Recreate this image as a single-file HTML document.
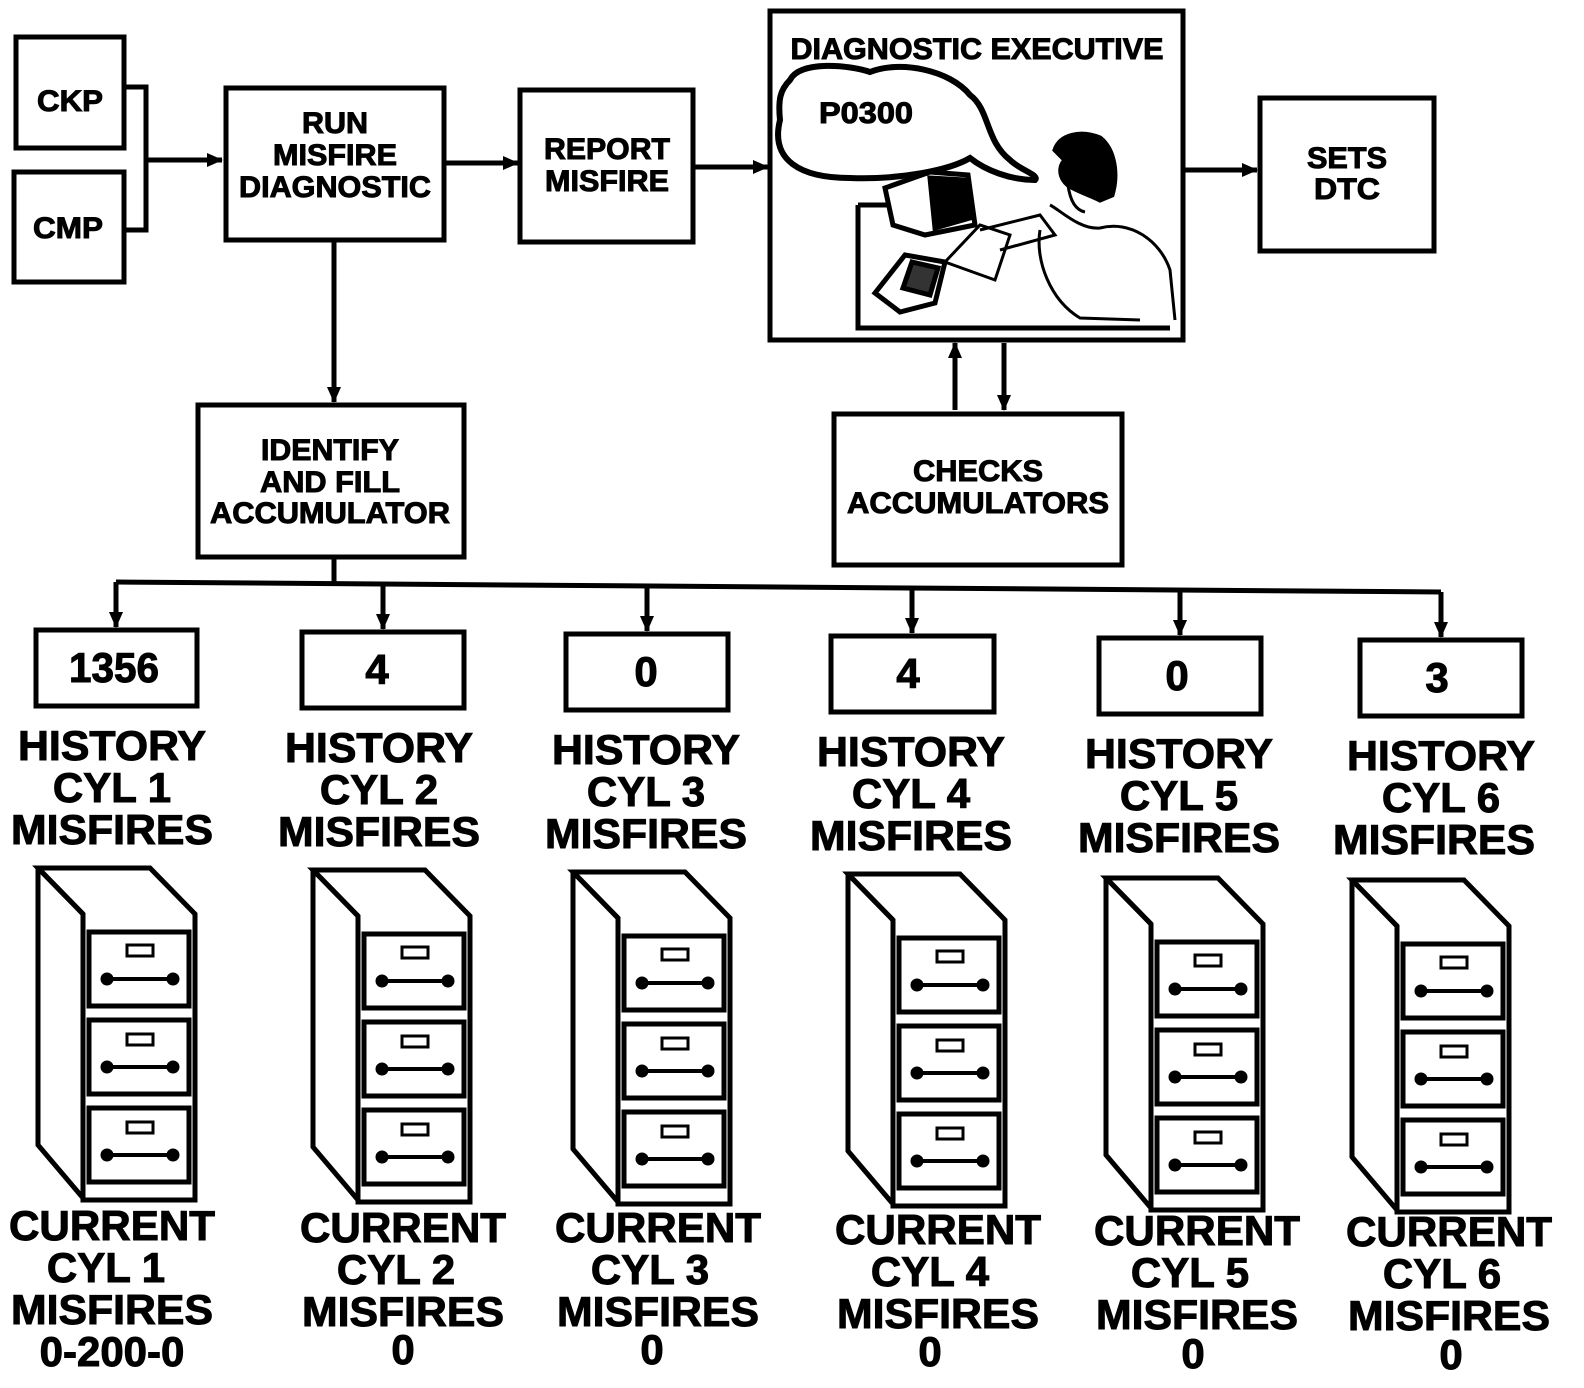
<!DOCTYPE html>
<html><head><meta charset="utf-8"><style>
html,body{margin:0;padding:0;background:#fff;}
svg{display:block;}
text{font-family:"Liberation Sans",sans-serif;font-weight:bold;fill:#000;stroke:#000;stroke-width:1;}
</style></head><body>
<svg width="1584" height="1388" viewBox="0 0 1584 1388" xmlns="http://www.w3.org/2000/svg">
<defs>
<marker id="ah" markerWidth="16" markerHeight="14" refX="15" refY="7" orient="auto" markerUnits="userSpaceOnUse" viewBox="0 0 16 14">
<path d="M0,0 L16,7 L0,14 z" fill="#000"/></marker>
<g id="cab" fill="none" stroke="#000" stroke-width="5">
<path d="M2,8 L114,8 L159,54 L159,340 L47,340 L47,54 Z" fill="#fff"/>
<path d="M2,8 L47,54"/>
<path d="M2,8 L2,285 L47,338"/>
<rect x="53" y="72" width="100" height="74"/>
<rect x="53" y="160" width="100" height="74"/>
<rect x="53" y="248" width="100" height="74"/>
<rect x="91" y="85" width="26" height="11" stroke-width="3"/>
<rect x="91" y="174" width="26" height="11" stroke-width="3"/>
<rect x="91" y="262" width="26" height="11" stroke-width="3"/>
<path d="M70,119 H138 M70,207 H138 M70,295 H138" stroke-width="4"/>
<circle cx="71" cy="119" r="4" fill="#000"/><circle cx="137" cy="119" r="4" fill="#000"/>
<circle cx="71" cy="207" r="4" fill="#000"/><circle cx="137" cy="207" r="4" fill="#000"/>
<circle cx="71" cy="295" r="4" fill="#000"/><circle cx="137" cy="295" r="4" fill="#000"/>
</g>
</defs>
<g fill="none" stroke="#000" stroke-width="5">
<rect x="16" y="37" width="108" height="111"/>
<rect x="14" y="172" width="110" height="110"/>
<path d="M124,87 H146 V230 H124"/>
<path d="M146,160 H222" marker-end="url(#ah)"/>
<rect x="226" y="88" width="218" height="152"/>
<path d="M444,163 H518" marker-end="url(#ah)"/>
<rect x="520" y="90" width="173" height="152"/>
<path d="M693,167 H768" marker-end="url(#ah)"/>
<rect x="770" y="11" width="413" height="329"/>
<path d="M1183,170 H1257" marker-end="url(#ah)"/>
<rect x="1260" y="98" width="174" height="153"/>
<path d="M334,240 V402" marker-end="url(#ah)"/>
<rect x="198" y="405" width="266" height="152"/>
<rect x="834" y="414" width="288" height="151"/>
<path d="M955,410 V343" marker-end="url(#ah)"/>
<path d="M1004,343 V410" marker-end="url(#ah)"/>
<path d="M334,557 V582"/>
<path d="M116,582 L1441,592"/>
<path d="M116,582 V627" marker-end="url(#ah)"/>
<path d="M383,584 V629" marker-end="url(#ah)"/>
<path d="M647,586 V631" marker-end="url(#ah)"/>
<path d="M912,588 V633" marker-end="url(#ah)"/>
<path d="M1180,590 V635" marker-end="url(#ah)"/>
<path d="M1441,592 V637" marker-end="url(#ah)"/>
<rect x="36" y="630" width="161" height="76"/>
<rect x="302" y="632" width="162" height="76"/>
<rect x="566" y="634" width="162" height="76"/>
<rect x="831" y="636" width="163" height="76"/>
<rect x="1099" y="638" width="162" height="76"/>
<rect x="1360" y="640" width="162" height="76"/>
<path d="M790,80 C800,60 850,65 870,72 C900,60 950,70 970,95 C990,110 985,140 1010,160 C1020,170 1040,175 1035,180 C1010,180 985,170 970,158 C950,170 900,180 850,178 C800,178 770,160 780,120 C778,100 780,90 790,80 Z" stroke-width="6"/>
<path d="M858,205 L858,328 L1170,328"/>
<path d="M858,205 L900,205"/>
<path d="M885,188 L930,172 L968,175 L975,225 L925,235 L893,225 Z" fill="#fff"/>
<path d="M930,178 L965,180 L970,218 L935,228 Z" fill="#000"/>
<path d="M875,293 L905,255 L945,262 L935,303 L900,312 Z" fill="#fff"/>
<path d="M912,262 L938,268 L930,295 L903,288 Z" fill="#333"/>
<path d="M945,262 L980,225 L1010,235 L995,280 Z" stroke-width="3"/>
<path d="M1055,150 C1060,135 1080,130 1100,138 C1115,150 1118,175 1112,195 L1100,200 C1090,195 1075,190 1068,185 C1060,178 1058,168 1065,160 Z" fill="#000"/>
<path d="M1068,185 C1070,200 1075,210 1085,212" stroke-width="3"/>
<path d="M1050,205 C1060,210 1080,230 1100,228 C1130,220 1160,240 1170,270 L1175,320" stroke-width="3"/>
<path d="M1040,230 C1035,260 1050,300 1080,318 L1140,320" stroke-width="3"/>
<path d="M980,230 L1040,215 L1055,235 L1000,250" stroke-width="3"/>
</g>
<g text-anchor="middle">
<text x="70" y="111" font-size="30" textLength="66" lengthAdjust="spacingAndGlyphs">CKP</text>
<text x="68" y="238" font-size="30" textLength="70" lengthAdjust="spacingAndGlyphs">CMP</text>
<text x="335" y="133" font-size="30" textLength="66" lengthAdjust="spacingAndGlyphs">RUN</text>
<text x="335" y="165" font-size="30" textLength="124" lengthAdjust="spacingAndGlyphs">MISFIRE</text>
<text x="335" y="197" font-size="30" textLength="192" lengthAdjust="spacingAndGlyphs">DIAGNOSTIC</text>
<text x="607" y="159" font-size="30" textLength="126" lengthAdjust="spacingAndGlyphs">REPORT</text>
<text x="607" y="191" font-size="30" textLength="124" lengthAdjust="spacingAndGlyphs">MISFIRE</text>
<text x="977" y="59" font-size="30" textLength="373" lengthAdjust="spacingAndGlyphs">DIAGNOSTIC EXECUTIVE</text>
<text x="866" y="123" font-size="30" textLength="94" lengthAdjust="spacingAndGlyphs">P0300</text>
<text x="1347" y="168" font-size="30" textLength="80" lengthAdjust="spacingAndGlyphs">SETS</text>
<text x="1347" y="199" font-size="30" textLength="66" lengthAdjust="spacingAndGlyphs">DTC</text>
<text x="330" y="460" font-size="30" textLength="138" lengthAdjust="spacingAndGlyphs">IDENTIFY</text>
<text x="330" y="492" font-size="30" textLength="140" lengthAdjust="spacingAndGlyphs">AND FILL</text>
<text x="330" y="523" font-size="30" textLength="240" lengthAdjust="spacingAndGlyphs">ACCUMULATOR</text>
<text x="978" y="481" font-size="30" textLength="130" lengthAdjust="spacingAndGlyphs">CHECKS</text>
<text x="978" y="513" font-size="30" textLength="262" lengthAdjust="spacingAndGlyphs">ACCUMULATORS</text>
</g>
<g text-anchor="middle" font-size="42">
<text x="114" y="682" textLength="90" lengthAdjust="spacingAndGlyphs">1356</text>
<text x="377" y="684">4</text>
<text x="646" y="686">0</text>
<text x="908" y="688">4</text>
<text x="1177" y="690">0</text>
<text x="1437" y="692">3</text>
</g>
<g text-anchor="middle" font-size="42">
<text x="112" y="760" textLength="188" lengthAdjust="spacingAndGlyphs">HISTORY</text>
<text x="112" y="802">CYL 1</text>
<text x="112" y="844" textLength="202" lengthAdjust="spacingAndGlyphs">MISFIRES</text>
<text x="379" y="762" textLength="188" lengthAdjust="spacingAndGlyphs">HISTORY</text>
<text x="379" y="804">CYL 2</text>
<text x="379" y="846" textLength="202" lengthAdjust="spacingAndGlyphs">MISFIRES</text>
<text x="646" y="764" textLength="188" lengthAdjust="spacingAndGlyphs">HISTORY</text>
<text x="646" y="806">CYL 3</text>
<text x="646" y="848" textLength="202" lengthAdjust="spacingAndGlyphs">MISFIRES</text>
<text x="911" y="766" textLength="188" lengthAdjust="spacingAndGlyphs">HISTORY</text>
<text x="911" y="808">CYL 4</text>
<text x="911" y="850" textLength="202" lengthAdjust="spacingAndGlyphs">MISFIRES</text>
<text x="1179" y="768" textLength="188" lengthAdjust="spacingAndGlyphs">HISTORY</text>
<text x="1179" y="810">CYL 5</text>
<text x="1179" y="852" textLength="202" lengthAdjust="spacingAndGlyphs">MISFIRES</text>
<text x="1441" y="770" textLength="188" lengthAdjust="spacingAndGlyphs">HISTORY</text>
<text x="1441" y="812">CYL 6</text>
<text x="1434" y="854" textLength="202" lengthAdjust="spacingAndGlyphs">MISFIRES</text>
</g>
<use href="#cab" x="36" y="860"/>
<use href="#cab" x="311" y="862"/>
<use href="#cab" x="571" y="864"/>
<use href="#cab" x="846" y="866"/>
<use href="#cab" x="1104" y="870"/>
<use href="#cab" x="1350" y="872"/>
<g text-anchor="middle" font-size="42">
<text x="112" y="1240" textLength="206" lengthAdjust="spacingAndGlyphs">CURRENT</text>
<text x="106" y="1282">CYL 1</text>
<text x="112" y="1324" textLength="202" lengthAdjust="spacingAndGlyphs">MISFIRES</text>
<text x="112" y="1366">0-200-0</text>
<text x="403" y="1242" textLength="206" lengthAdjust="spacingAndGlyphs">CURRENT</text>
<text x="396" y="1284">CYL 2</text>
<text x="403" y="1326" textLength="202" lengthAdjust="spacingAndGlyphs">MISFIRES</text>
<text x="403" y="1364">0</text>
<text x="658" y="1242" textLength="206" lengthAdjust="spacingAndGlyphs">CURRENT</text>
<text x="650" y="1284">CYL 3</text>
<text x="658" y="1326" textLength="202" lengthAdjust="spacingAndGlyphs">MISFIRES</text>
<text x="652" y="1364">0</text>
<text x="938" y="1244" textLength="206" lengthAdjust="spacingAndGlyphs">CURRENT</text>
<text x="930" y="1286">CYL 4</text>
<text x="938" y="1328" textLength="202" lengthAdjust="spacingAndGlyphs">MISFIRES</text>
<text x="930" y="1366">0</text>
<text x="1197" y="1245" textLength="206" lengthAdjust="spacingAndGlyphs">CURRENT</text>
<text x="1190" y="1287">CYL 5</text>
<text x="1197" y="1329" textLength="202" lengthAdjust="spacingAndGlyphs">MISFIRES</text>
<text x="1193" y="1368">0</text>
<text x="1449" y="1246" textLength="206" lengthAdjust="spacingAndGlyphs">CURRENT</text>
<text x="1442" y="1288">CYL 6</text>
<text x="1449" y="1330" textLength="202" lengthAdjust="spacingAndGlyphs">MISFIRES</text>
<text x="1451" y="1369">0</text>
</g>
</svg>
</body></html>
